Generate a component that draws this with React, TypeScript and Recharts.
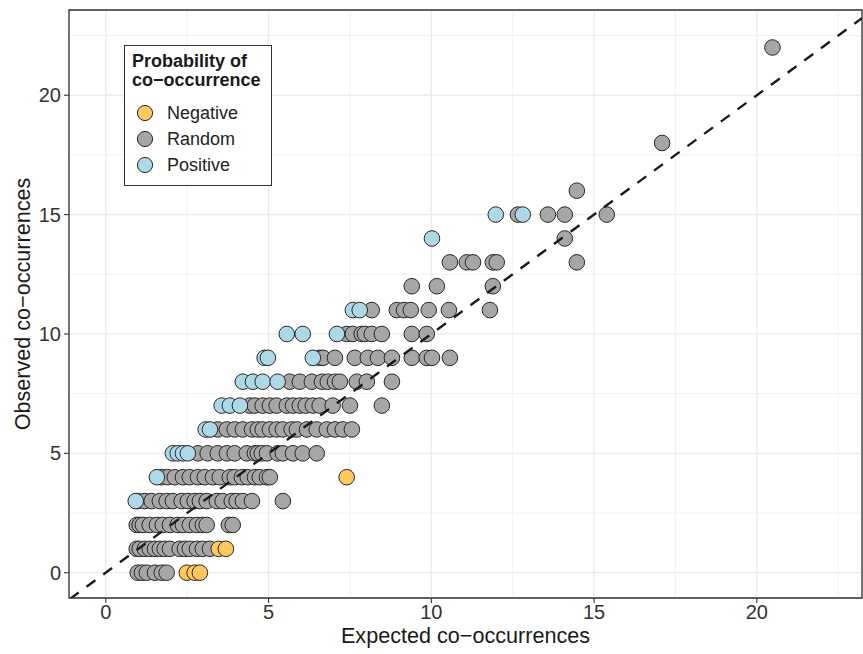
import { ScatterChart, Scatter, XAxis, YAxis, CartesianGrid, ReferenceLine, ReferenceArea, Legend } from 'recharts'

const FONT = '"Liberation Sans", Arial, Helvetica, sans-serif'

const X_DOMAIN: [number, number] = [-1.13, 23.23]
const Y_DOMAIN: [number, number] = [-1.06, 23.57]
const MAJOR_TICKS = [0, 5, 10, 15, 20]
const MINOR_TICKS = [2.5, 7.5, 12.5, 17.5, 22.5]

// [observed, expected values at that observed count]
const negativeRows: [number, number[]][] = [
  [0, [2.49, 2.73, 2.89]],
  [1, [3.47, 3.69]],
  [4, [7.4]],
]

const randomRows: [number, number[]][] = [
  [0, [0.98, 1.11, 1.26, 1.51, 1.72, 1.87]],
  [1, [0.95, 1.04, 1.2, 1.35, 1.51, 1.66, 1.81, 1.97, 2.27, 2.43, 2.58, 2.8, 2.98, 3.2]],
  [2, [0.95, 1.04, 1.14, 1.35, 1.57, 1.75, 1.97, 2.21, 2.37, 2.58, 2.8, 2.98, 3.1, 3.78, 3.9]],
  [3, [0.98, 1.2, 1.41, 1.66, 1.87, 2.06, 2.33, 2.52, 2.73, 2.89, 3.1, 3.41, 3.59, 3.87, 4.02, 4.21, 4.49, 5.44]],
  [4, [1.72, 1.9, 2.12, 2.37, 2.58, 2.83, 3.04, 3.29, 3.5, 3.81, 3.96, 4.18, 4.36, 4.58, 4.73, 4.95, 5.04]],
  [5, [2.83, 3.13, 3.44, 3.72, 3.96, 4.33, 4.58, 4.67, 4.79, 4.95, 5.28, 5.44, 5.75, 6.05, 6.48]],
  [6, [3.44, 3.72, 3.96, 4.21, 4.49, 4.67, 4.82, 5.04, 5.25, 5.44, 5.71, 5.87, 6.18, 6.48, 6.79, 7.04, 7.28, 7.56]],
  [7, [4.42, 4.58, 4.82, 5.04, 5.25, 5.56, 5.75, 5.96, 6.14, 6.36, 6.57, 6.97, 7.5, 8.48]],
  [8, [5.65, 5.96, 6.33, 6.64, 6.82, 7.04, 7.19, 7.71, 8.02, 8.79]],
  [9, [6.57, 6.67, 7.04, 7.65, 8.05, 8.36, 8.79, 9.4, 9.86, 10.02, 10.57]],
  [10, [7.4, 7.59, 7.86, 7.96, 8.17, 8.48, 9.4, 9.86]],
  [11, [8.17, 8.94, 9.16, 9.37, 9.92, 10.54, 11.8]],
  [12, [9.4, 10.17, 11.89]],
  [13, [10.57, 11.09, 11.28, 11.89, 12.01, 14.47]],
  [14, [14.1]],
  [15, [12.66, 13.58, 14.1, 15.39]],
  [16, [14.47]],
  [18, [17.09]],
  [22, [20.48]],
]

const positiveRows: [number, number[]][] = [
  [3, [0.92]],
  [4, [1.57]],
  [5, [2.06, 2.21, 2.37, 2.52]],
  [6, [3.07, 3.2]],
  [7, [3.56, 3.81, 4.12]],
  [8, [4.21, 4.52, 4.82, 5.28]],
  [9, [4.88, 4.98, 6.36]],
  [10, [5.56, 6.05, 7.1]],
  [11, [7.59, 7.8]],
  [14, [10.02]],
  [15, [11.98, 12.81]],
]

const CATEGORIES = ['Negative', 'Random', 'Positive']
const COLORS: Record<string, string> = { Negative: '#FFC85C', Random: '#A6A6A6', Positive: '#ADD8E6' }

const toPoints = (rows: [number, number[]][]) =>
  rows.flatMap(([obs, xs]) => xs.map(x => ({ expected: x, observed: obs })))

const negative = toPoints(negativeRows)
const random = toPoints(randomRows)
const positive = toPoints(positiveRows)

const dot = (fill: string) => (p: any) => (
  <circle cx={p.cx} cy={p.cy} r={7.8} fill={fill} stroke='#262626' strokeWidth={1} />
)

const renderLegend = () => (
  <div style={{ boxSizing: 'border-box', width: 148, height: 141, border: '1.3px solid #333', background: '#fff', fontFamily: FONT, color: '#1a1a1a' }}>
    <div style={{ fontWeight: 'bold', fontSize: 18, lineHeight: '19px', paddingTop: 6, paddingLeft: 7 }}>
      Probability of<br />co−occurrence
    </div>
    <div style={{ marginTop: 9.5 }}>
      {CATEGORIES.map(c => (
        <div key={c} style={{ display: 'flex', alignItems: 'center', height: 26.2 }}>
          <svg width={18} height={18} style={{ marginLeft: 11.4 }}>
            <circle cx={9} cy={9} r={7.6} fill={COLORS[c]} stroke='#262626' strokeWidth={1} />
          </svg>
          <span style={{ fontSize: 18, lineHeight: '18px', marginLeft: 12.5, color: '#222' }}>{c}</span>
        </div>
      ))}
    </div>
  </div>
)

export default function App() {
  return (
    <div style={{ position: 'absolute', left: 0, top: 0, background: '#fff' }}>
      <ScatterChart width={863} height={654} margin={{ top: 10, right: 1, bottom: 0, left: 0 }}>
        <XAxis xAxisId='minor' type='number' dataKey='expected' domain={X_DOMAIN} ticks={MINOR_TICKS} allowDataOverflow hide />
        <YAxis yAxisId='minor' type='number' dataKey='observed' domain={Y_DOMAIN} ticks={MINOR_TICKS} allowDataOverflow hide />
        <CartesianGrid xAxisId='minor' yAxisId='minor' stroke='#EEEEEE' strokeWidth={0.8} />
        <CartesianGrid stroke='#EBEBEB' strokeWidth={1.3} />
        <XAxis
          type='number'
          dataKey='expected'
          domain={X_DOMAIN}
          ticks={MAJOR_TICKS}
          allowDataOverflow
          height={56}
          axisLine={false}
          tickSize={5}
          tickMargin={2}
          tickLine={{ stroke: '#333', strokeWidth: 1.1 }}
          tick={{ fill: '#333', fontSize: 20, fontFamily: FONT }}
          label={{ value: 'Expected co−occurrences', position: 'insideBottom', offset: 11, fill: '#1a1a1a', fontSize: 21.6, fontFamily: FONT }}
        />
        <YAxis
          type='number'
          dataKey='observed'
          domain={Y_DOMAIN}
          ticks={MAJOR_TICKS}
          allowDataOverflow
          width={69}
          axisLine={false}
          tickSize={5}
          tickMargin={3}
          tickLine={{ stroke: '#333', strokeWidth: 1.1 }}
          tick={{ fill: '#333', fontSize: 20, fontFamily: FONT }}
          label={{ value: 'Observed co−occurrences', angle: -90, position: 'insideLeft', offset: 22, fill: '#1a1a1a', fontSize: 21.6, fontFamily: FONT, style: { textAnchor: 'middle' } }}
        />
        <Scatter name='Random' data={random} shape={dot(COLORS.Random)} isAnimationActive={false} />
        <Scatter name='Positive' data={positive} shape={dot(COLORS.Positive)} isAnimationActive={false} />
        <Scatter name='Negative' data={negative} shape={dot(COLORS.Negative)} isAnimationActive={false} />
        <ReferenceLine
          segment={[{ x: X_DOMAIN[0] - 1, y: X_DOMAIN[0] - 1 }, { x: Y_DOMAIN[1] + 1, y: Y_DOMAIN[1] + 1 }]}
          ifOverflow='hidden'
          stroke='#1a1a1a'
          strokeWidth={2.4}
          strokeDasharray='11 9.7'
          zIndex={700}
        />
        <ReferenceArea x1={X_DOMAIN[0]} x2={X_DOMAIN[1]} y1={Y_DOMAIN[0]} y2={Y_DOMAIN[1]} fill='none' stroke='#333' strokeWidth={1.3} ifOverflow='visible' zIndex={800} />
        <Legend
          layout='horizontal'
          verticalAlign='middle'
          align='center'
          width={148}
          height={141}
          wrapperStyle={{ left: 124, top: 45, width: 148, height: 141 }}
          content={renderLegend}
        />
      </ScatterChart>
    </div>
  )
}
